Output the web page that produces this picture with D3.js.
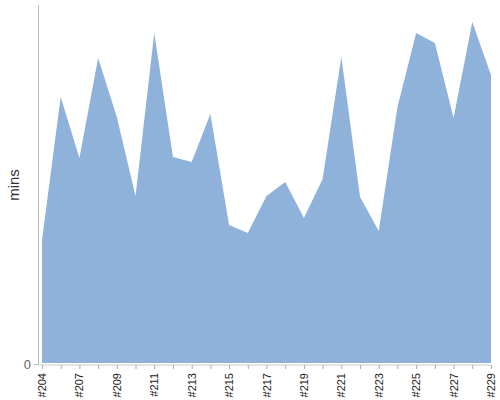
<!doctype html>
<html>
  <head>
    <script src="https://d3js.org/d3.v7.min.js"></script>
    <style>
      body { margin: 0; background: #fff; }
      text { font-family: "Liberation Sans", Arial, sans-serif; }
    </style>
  </head>
  <body>
    <svg id="chart" width="500" height="400"></svg>
    <script>
      /* build numbers along the x axis */
      let builds = ["#204", "#205", "#207", "#208", "#209", "#210", "#211", "#212", "#213",
                    "#214", "#215", "#216", "#217", "#218", "#219", "#220", "#221", "#222",
                    "#223", "#224", "#225", "#226", "#227", "#228", "#229"];
      /* duration of each build, in mins */
      let durations = [123, 266, 205, 305, 246, 167, 330, 206, 201,
                       249, 138, 130, 167, 181, 145, 184, 306, 166,
                       132, 256, 330, 320, 245, 341, 288];
      let yTicks = [0];
      let yMax = 358;

      var svg = d3.select("#chart");

      var x = d3.scalePoint()
        .domain(builds)
        .range([42, 491]);

      var y = d3.scaleLinear()
        .domain([0, yMax])
        .range([363, 5]);

      /* the filled area */
      var area = d3.area()
        .x((d, i) => x(builds[i]))
        .y0(y(0))
        .y1(d => y(d));

      svg.append("path")
        .datum(durations)
        .attr("d", area)
        .style("fill", "#8fb2da");

      /* y axis: grey line plus the single 0 label */
      svg.append("line")
        .attr("x1", 38.5).attr("x2", 38.5)
        .attr("y1", 5).attr("y2", 365)
        .style("stroke", "#bbb");

      svg.selectAll("line.ytick").data(yTicks)
        .enter()
        .append("line")
          .attr("class", "ytick")
          .attr("x1", 34).attr("x2", 38.5)
          .attr("y1", d => y(d) + 1.5).attr("y2", d => y(d) + 1.5)
          .style("stroke", "#bbb");

      svg.selectAll("text.ytick").data(yTicks)
        .enter()
        .append("text")
          .attr("class", "ytick")
          .attr("x", 31)
          .attr("y", d => y(d) + 1.5)
          .attr("dy", "0.35em")
          .attr("text-anchor", "end")
          .style("font-size", "13px")
          .style("fill", "#666")
          .text(d => d);

      svg.append("text")
        .attr("transform", "translate(19,185) rotate(-90)")
        .attr("text-anchor", "middle")
        .style("font-size", "15px")
        .style("fill", "#333")
        .text("mins");

      /* x axis: line, a tick per build, label on every other one */
      svg.append("line")
        .attr("x1", 38.5).attr("x2", 491)
        .attr("y1", 365).attr("y2", 365)
        .style("stroke", "#ccc");

      svg.selectAll("line.xtick").data(builds)
        .enter()
        .append("line")
          .attr("class", "xtick")
          .attr("x1", d => x(d) + 0.5).attr("x2", d => x(d) + 0.5)
          .attr("y1", 365).attr("y2", 369)
          .style("stroke", "#aaa");

      svg.selectAll("text.xtick").data(builds.filter((d, i) => i % 2 == 0))
        .enter()
        .append("text")
          .attr("class", "xtick")
          .attr("transform", d => "translate(" + (x(d) + 4) + ",373) rotate(-90)")
          .attr("text-anchor", "end")
          .style("font-size", "11px")
          .style("fill", "#222")
          .text(d => d);
    </script>
  </body>
</html>
